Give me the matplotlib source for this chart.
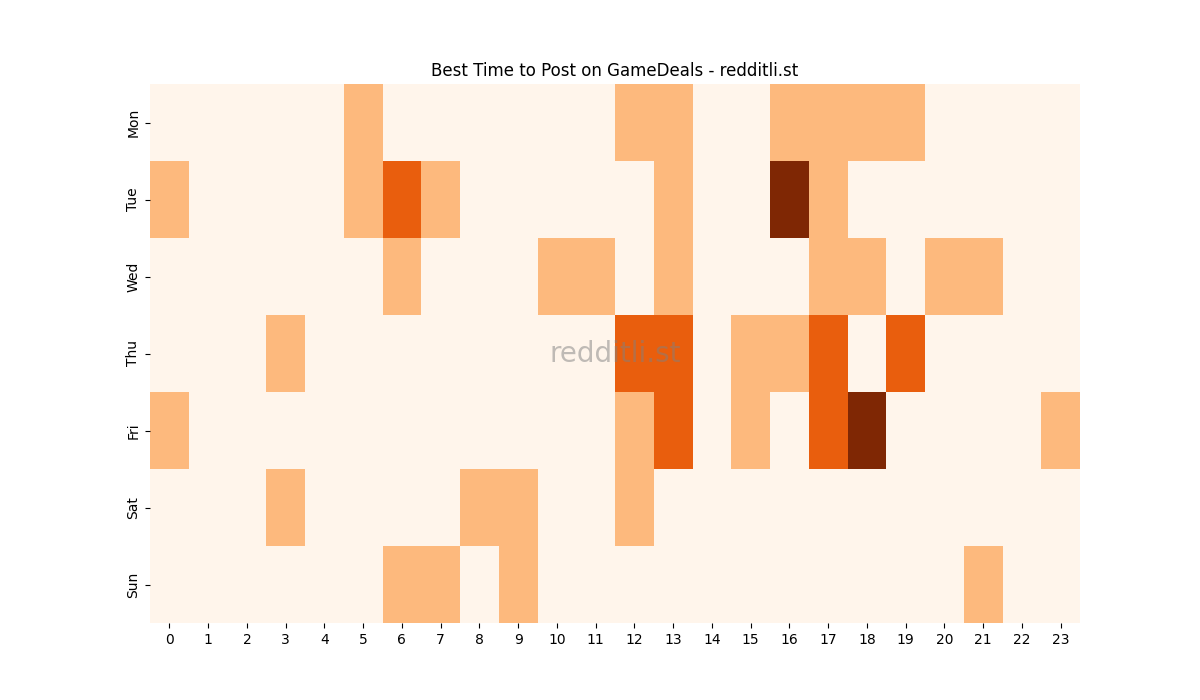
import matplotlib
matplotlib.use("Agg")
import matplotlib.pyplot as plt
import numpy as np
import seaborn as sns

days = ["Mon", "Tue", "Wed", "Thu", "Fri", "Sat", "Sun"]
hours = list(range(24))

# posts per hour slot (row = day, col = hour)
mon = [0, 0, 0, 0, 0, 1, 0, 0, 0, 0, 0, 0, 1, 1, 0, 0, 1, 1, 1, 1, 0, 0, 0, 0]
tue = [1, 0, 0, 0, 0, 1, 2, 1, 0, 0, 0, 0, 0, 1, 0, 0, 3, 1, 0, 0, 0, 0, 0, 0]
wed = [0, 0, 0, 0, 0, 0, 1, 0, 0, 0, 1, 1, 0, 1, 0, 0, 0, 1, 1, 0, 1, 1, 0, 0]
thu = [0, 0, 0, 1, 0, 0, 0, 0, 0, 0, 0, 0, 2, 2, 0, 1, 1, 2, 0, 2, 0, 0, 0, 0]
fri = [1, 0, 0, 0, 0, 0, 0, 0, 0, 0, 0, 0, 1, 2, 0, 1, 0, 2, 3, 0, 0, 0, 0, 1]
sat = [0, 0, 0, 1, 0, 0, 0, 0, 1, 1, 0, 0, 1, 0, 0, 0, 0, 0, 0, 0, 0, 0, 0, 0]
sun = [0, 0, 0, 0, 0, 0, 1, 1, 0, 1, 0, 0, 0, 0, 0, 0, 0, 0, 0, 0, 0, 1, 0, 0]

data = np.array([mon, tue, wed, thu, fri, sat, sun])

fig, ax = plt.subplots(figsize=(12, 7), dpi=100)
sns.heatmap(data, cmap="Oranges", cbar=False, xticklabels=hours,
            yticklabels=days, ax=ax)
ax.set_title("Best Time to Post on GameDeals - redditli.st")
plt.yticks(rotation=90, va="center")
plt.xticks(rotation=0)

ax.text(0.5, 0.5, "redditli.st", transform=ax.transAxes, fontsize=20,
        color="gray", alpha=0.5, ha="center", va="center")

plt.savefig("out.png")
